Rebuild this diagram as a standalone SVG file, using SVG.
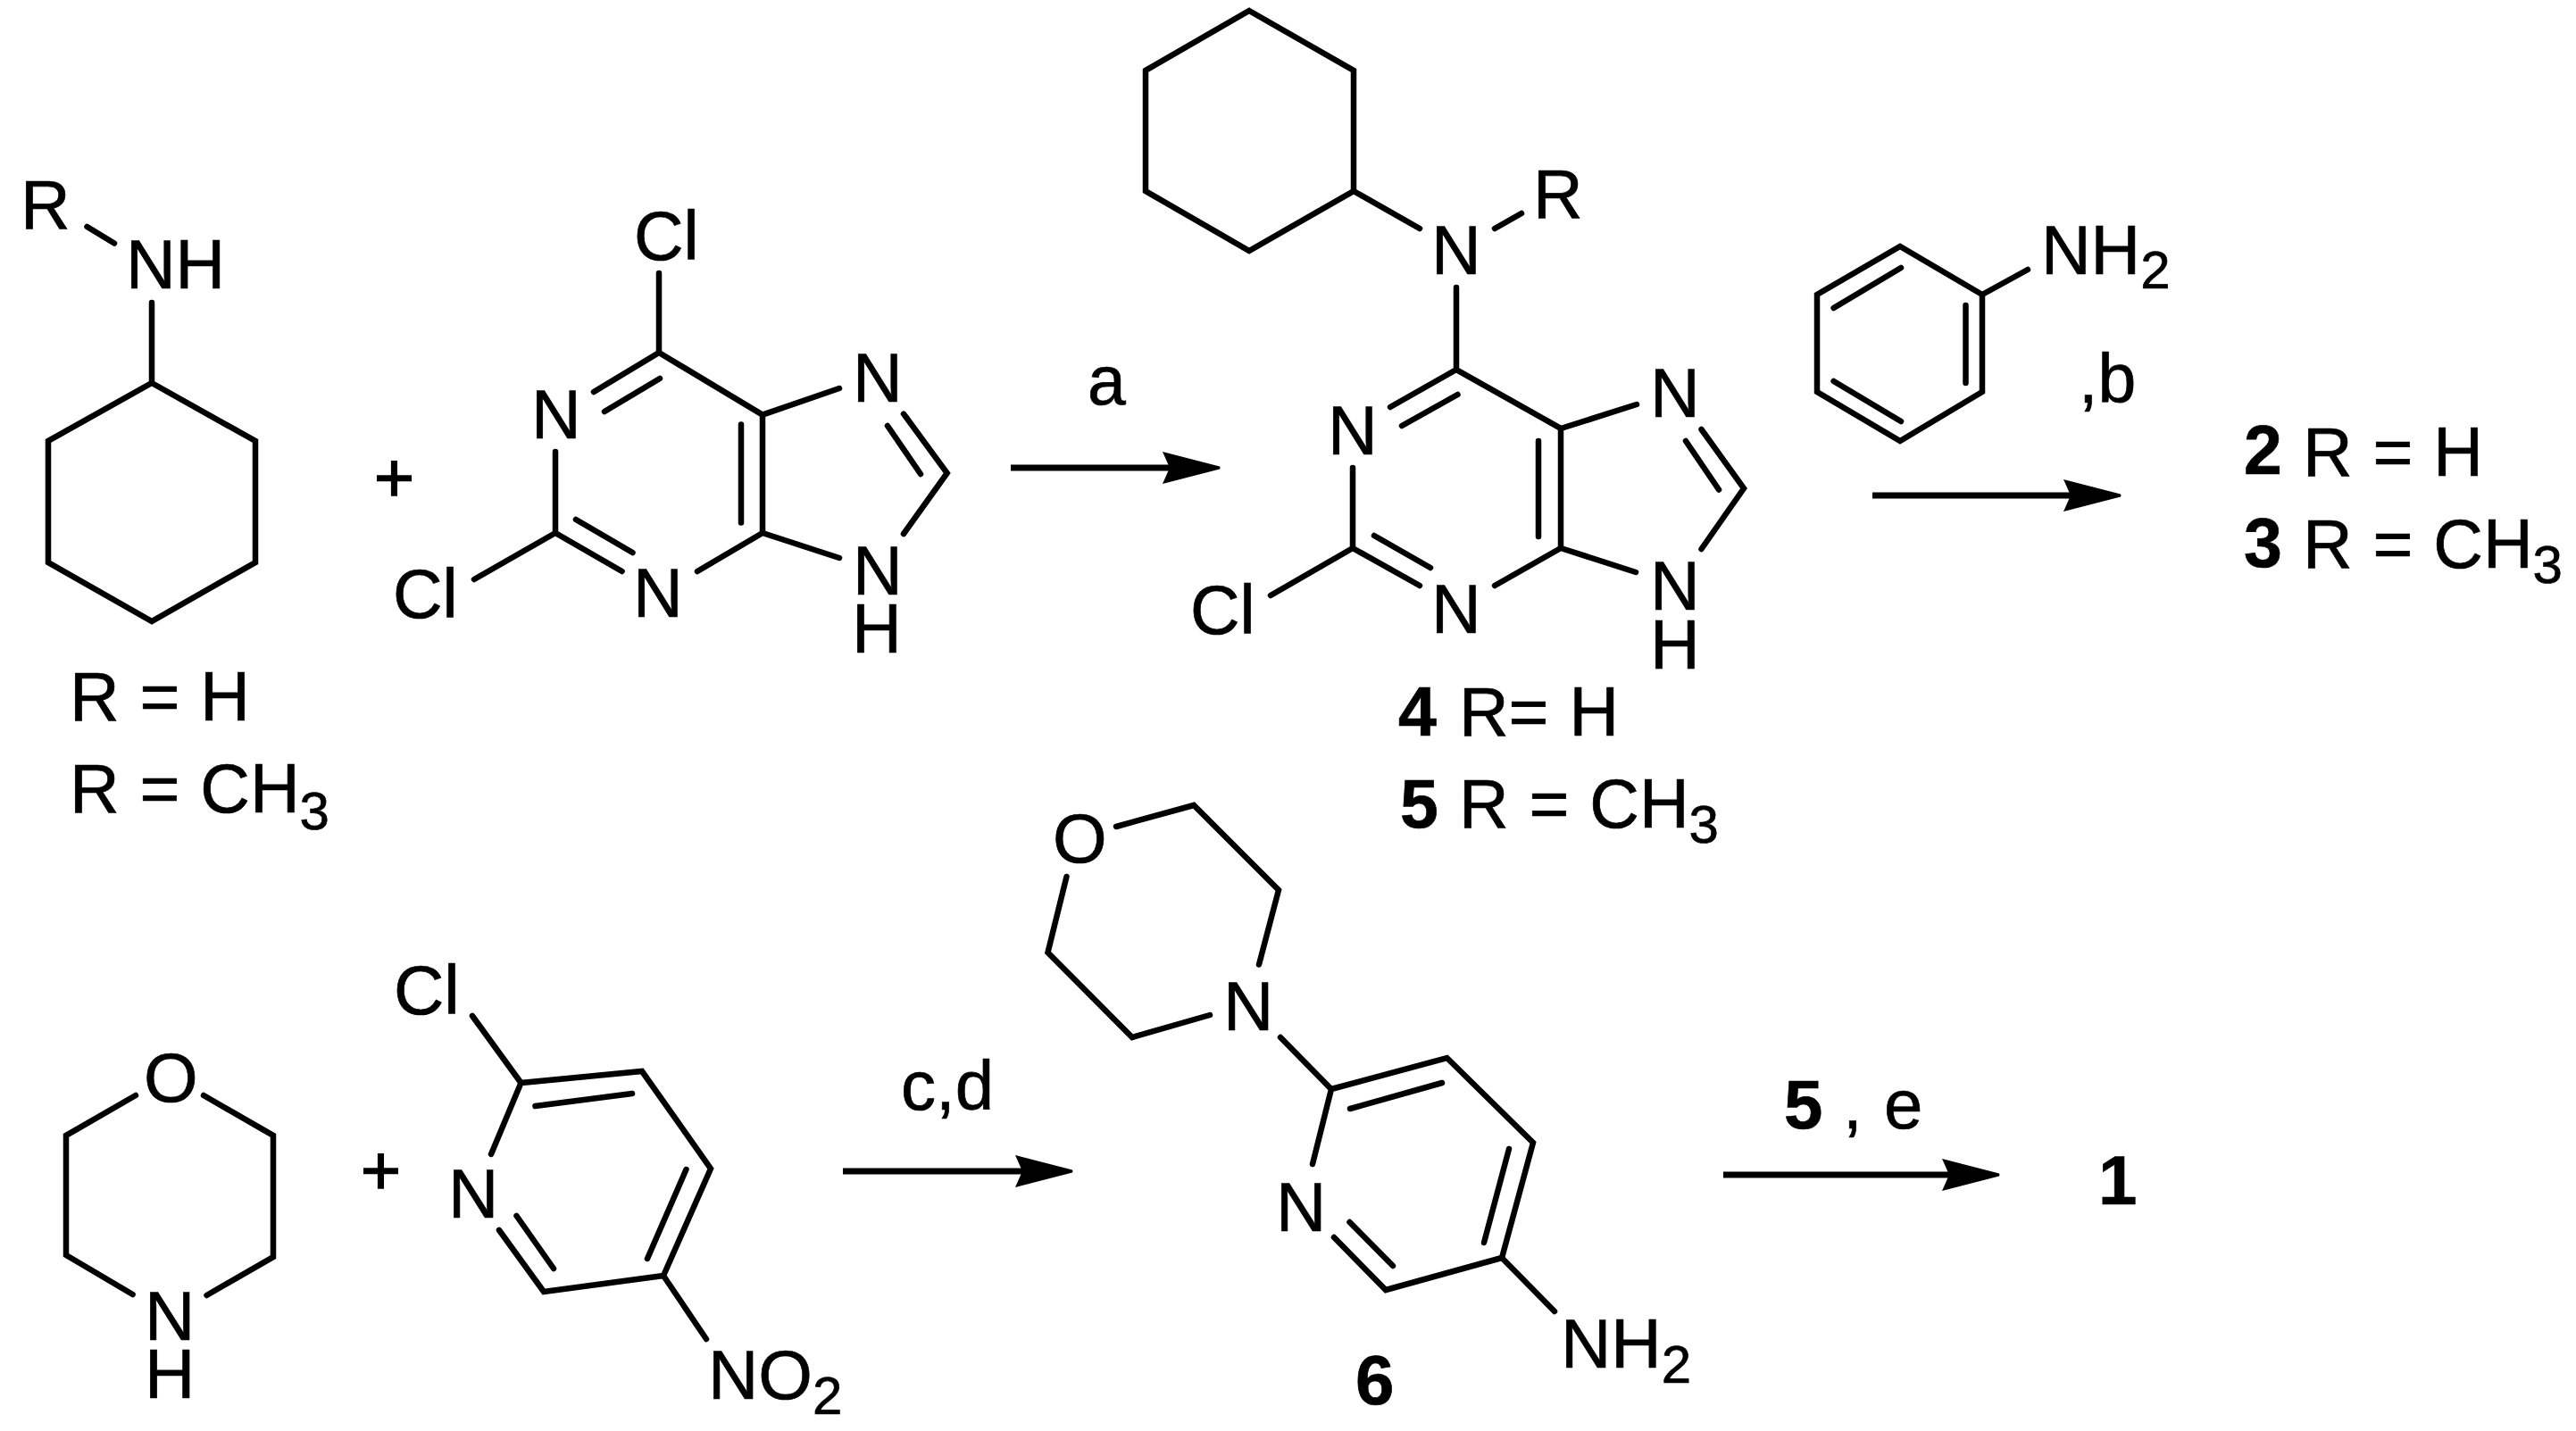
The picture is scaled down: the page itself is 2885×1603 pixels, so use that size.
<svg xmlns="http://www.w3.org/2000/svg" width="2885" height="1603" viewBox="0 0 2885 1603">
<style>
text{font-family:"Liberation Sans",Arial,sans-serif;font-size:77px;fill:#000;stroke:#000;stroke-width:.7;word-spacing:1.500px}
.l{font-size:78px}
.b{font-weight:bold}
.s{font-size:60px}
.p{stroke-width:1.600}
.bond{fill:none;stroke:#000;stroke-width:6.500;stroke-linejoin:miter;stroke-linecap:round}
.arrow{fill:none;stroke:#000;stroke-width:7;marker-end:url(#head)}
</style>
<defs>
<marker id="head" markerUnits="userSpaceOnUse" markerWidth="70" markerHeight="44" viewBox="-2 -22 70 44" refX="8" refY="0" orient="auto">
<path d="M0 -18L64 -1.500Q65 0 64 1.500L0 18L8 0Z" fill="#000"/>
</marker>
</defs>
<rect width="2885" height="1603" fill="#fff"/>

<g id="cyclohexylamine">
<path class="bond" d="M170 429L286 494V630L170 696L54 630V494ZM170 339V429M97.500 254L128 272.500"/>
<text x="23" y="256">R</text>
<text x="141" y="323">NH</text>
<text x="78" y="807">R = H</text>
<text x="78" y="910">R = CH<tspan class="s" dy="19">3</tspan></text>
</g>

<text id="plus1" class="p" x="419" y="562">+</text>

<g id="dichloropurine">
<path class="bond" d="M738 306V395L854 464.600V597M738 395L665 439M739 424L677 461M830 475.500V585.500M854 597L781 640M622 597L696.600 640M645 582L708.500 619M622 597V506M622 597L531 649M854 464.600L940 435M1012 463.600L1060.700 530L1012 598M994 477L1031 531M854 597L940 625"/>
<text x="710" y="291">Cl</text>
<text x="595" y="491">N</text>
<text x="709" y="691">N</text>
<text x="440" y="692">Cl</text>
<text x="955" y="450">N</text>
<text><tspan x="955" y="666">N</tspan><tspan x="954" y="731">H</tspan></text>
</g>

<g id="compound45">
<path class="bond" d="M1399 12L1516 79V214L1399 281L1283 214V79ZM1516 214L1590 256M1674 256L1704 239M1631 322V414L1748 480V614M1631 414L1557 456M1632.500 442L1570 477M1723 494V601M1748 614L1674 656M1515 614L1590 656M1539 600L1602 636M1515 614V524M1515 614L1423 667M1748 480L1833 453M1905.500 481L1953 547L1905.500 615M1888 494L1925 548.500M1748 614L1832 641"/>
<text x="1603" y="307">N</text>
<text x="1717" y="244">R</text>
<text x="1487" y="509">N</text>
<text x="1603" y="709">N</text>
<text x="1333" y="710">Cl</text>
<text x="1848" y="467">N</text>
<text><tspan x="1848" y="683">N</tspan><tspan x="1848" y="749">H</tspan></text>
<text x="1566" y="824" class="b">4</text>
<text x="1634" y="824">R= H</text>
<text x="1568" y="927" class="b">5</text>
<text x="1634" y="927">R = CH<tspan class="s" dy="17">3</tspan></text>
</g>

<g id="aniline">
<path class="bond" d="M2128 276L2220 330V439L2128 494L2035 439V330ZM2129 300L2053.600 345M2201.500 342V429M2053.600 427L2129 472M2220 330L2271 302"/>
<text x="2286" y="307">NH<tspan class="s" dy="16">2</tspan></text>
</g>

<g id="products23">
<text x="2513" y="531" class="b">2</text>
<text x="2579" y="533">R = H</text>
<text x="2513" y="635" class="b">3</text>
<text x="2579" y="636">R = CH<tspan class="s" dy="17">3</tspan></text>
</g>

<g id="morpholine">
<path class="bond" d="M152 1227L74 1272V1406L148.600 1450M228 1227L306 1272V1408L231.500 1451"/>
<text x="161" y="1234" class="l">O</text>
<text class="l"><tspan x="162" y="1501">N</tspan><tspan x="162" y="1566">H</tspan></text>
</g>

<text id="plus2" class="p" x="404" y="1338">+</text>

<g id="chloronitropyridine">
<path class="bond" d="M529 1138L583.500 1213L719 1200L796 1309L743 1429L609 1447L559 1378M583.500 1213L550 1293M578.500 1362L620 1421M599.500 1239L708 1225M768.500 1310L725 1410M743 1429L791 1500"/>
<text x="441" y="1136" class="l">Cl</text>
<text x="502" y="1364" class="l">N</text>
<text x="793" y="1567" class="l">NO<tspan class="s" dy="17">2</tspan></text>
</g>

<g id="compound6">
<path class="bond" d="M1250 926L1337 902L1432 997L1410 1080.500M1194.500 982L1173.500 1067L1268 1162L1355 1137M1434 1162L1491 1220L1620.500 1185L1717 1280L1682 1409L1552 1445L1494 1386M1491 1220L1470 1304M1511.500 1369L1560 1418M1512 1242L1615 1213M1690 1287L1662 1392M1682 1409L1741 1469"/>
<text x="1179" y="966" class="l">O</text>
<text x="1370" y="1154" class="l">N</text>
<text x="1429" y="1379" class="l">N</text>
<text x="1748" y="1532" class="l">NH<tspan class="s" dy="17">2</tspan></text>
<text x="1518" y="1573" class="b l">6</text>
</g>

<g id="connectors">
<path class="arrow" d="M1132 524H1310"/>
<path class="arrow" d="M2097 555H2319"/>
<path class="arrow" d="M944 1312H1145"/>
<path class="arrow" d="M1930 1316H2183"/>
</g>

<g id="labels">
<text x="1218" y="453">a</text>
<text x="2328" y="451">,b</text>
<text x="1009" y="1243" class="l">c,d</text>
<text x="1998" y="1264" class="b l">5</text>
<text x="2064" y="1264" class="l">,</text>
<text x="2110" y="1264" class="l">e</text>
<text x="2350" y="1349" class="b l">1</text>
</g>
</svg>
